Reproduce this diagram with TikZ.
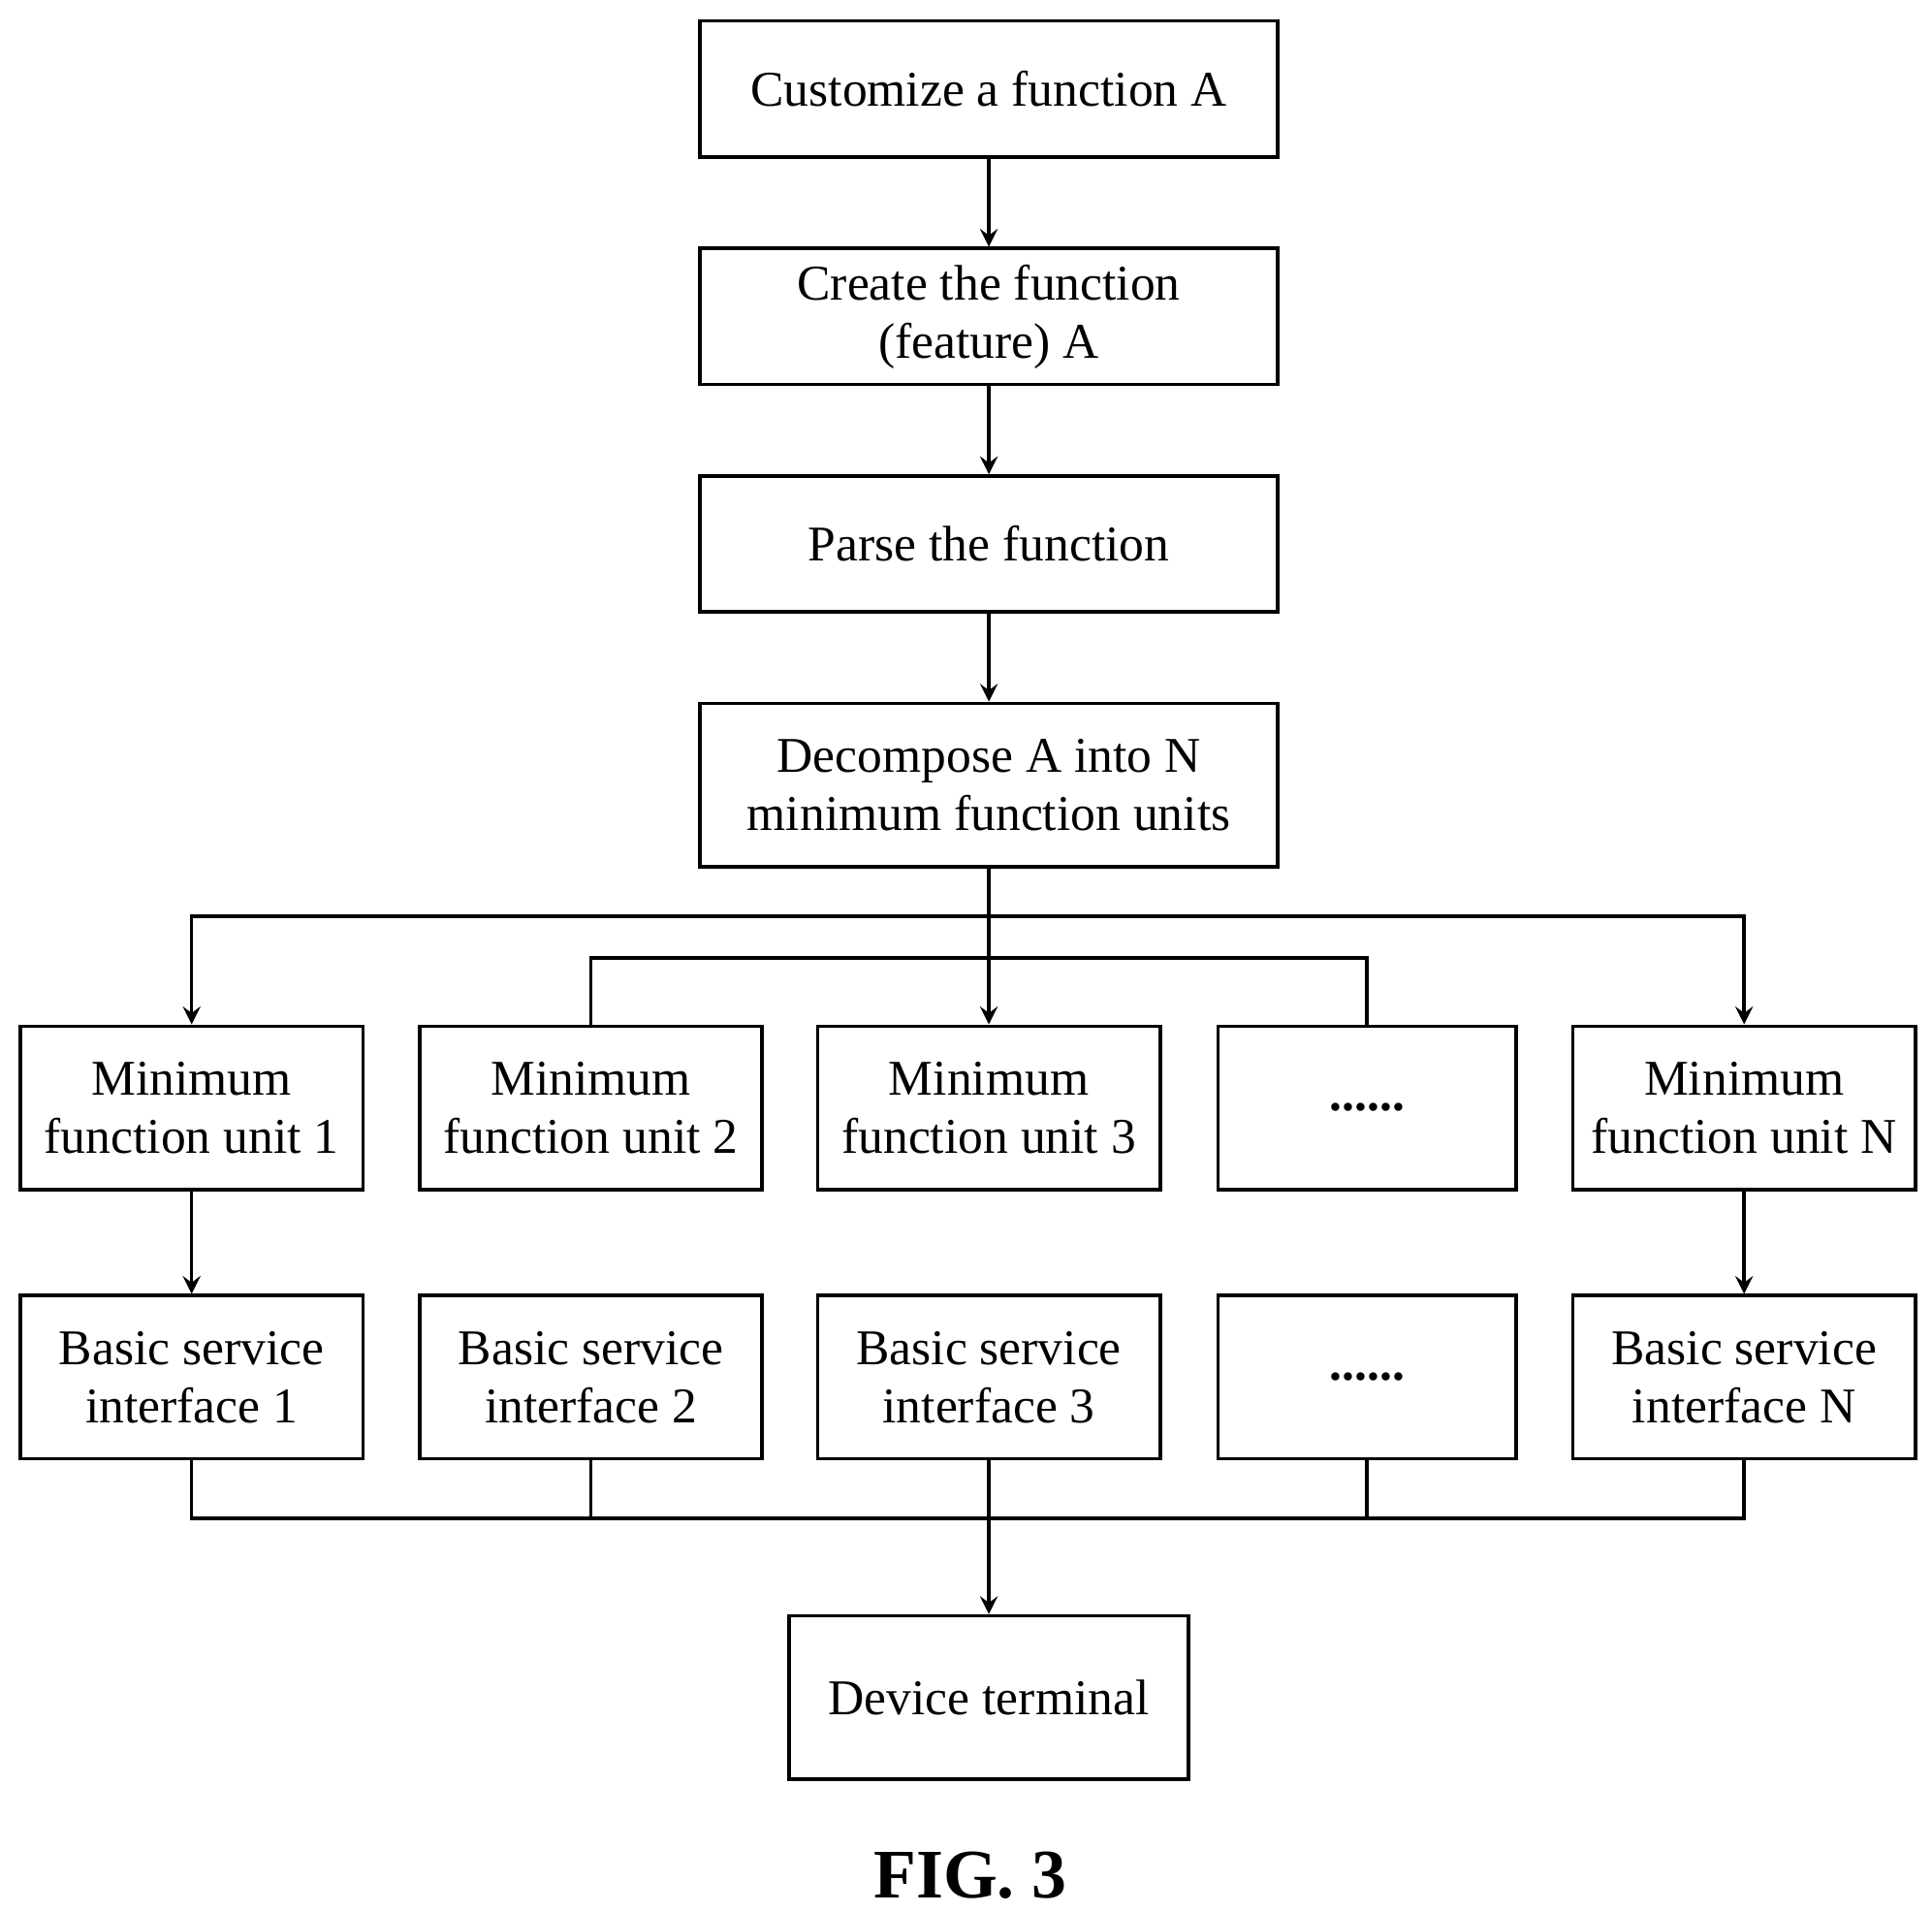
\documentclass[tikz,border=0pt]{standalone}
\usepackage{fontspec}
\setmainfont{Liberation Serif}
\usetikzlibrary{arrows, positioning}
\tikzset{>=stealth}

\begin{document}
\begin{tikzpicture}[>=stealth, x=0.01cm, y=-0.01cm,
    box/.style={draw, thick, align=center, inner sep=0pt,
        font=\fontsize{11.5}{13.4}\selectfont},
    wide/.style={box, minimum width=4.67cm, minimum height=1.1cm},
    unit/.style={box, minimum width=2.77cm, minimum height=1.32cm},
    dots/.style={box, minimum width=2.41cm, minimum height=1.32cm}]
    \useasboundingbox (0,0) rectangle (1563,1546);
    \node[wide] (cust) at (800,72) {Customize a function A};
    \node[wide] (create) at (800,256) {Create the function\\(feature) A};
    \node[wide] (parse) at (800,440) {Parse the function};
    \node[wide, minimum height=1.32cm] (decomp) at (800,635) {Decompose A into N\\minimum function units};

    \node[unit] (m1) at (155,896) {Minimum\\function unit 1};
    \node[unit] (m2) at (478,896) {Minimum\\function unit 2};
    \node[unit] (m3) at (800,896) {Minimum\\function unit 3};
    \node[dots] (m4) at (1106,896) {\textbf{......}};
    \node[unit] (mN) at (1411,896) {Minimum\\function unit N};

    \node[unit] (b1) at (155,1114) {Basic service\\interface 1};
    \node[unit] (b2) at (478,1114) {Basic service\\interface 2};
    \node[unit] (b3) at (800,1114) {Basic service\\interface 3};
    \node[dots] (b4) at (1106,1114) {\textbf{......}};
    \node[unit] (bN) at (1411,1114) {Basic service\\interface N};

    \node[box, minimum width=3.23cm, minimum height=1.32cm] (dev) at (800,1373) {Device terminal};
    \node[font=\fontsize{16}{18}\selectfont\bfseries] (fig) at (785,1517) {FIG. 3};

    \draw[->, thick] (cust) -- (create);
    \draw[->, thick] (create) -- (parse);
    \draw[->, thick] (parse) -- (decomp);
    \draw[->, thick] (decomp) -- (m3);
    \draw[->, thick] (decomp.south |- 0,741) -| (m1);
    \draw[->, thick] (decomp.south |- 0,741) -| (mN);
    \draw[thick] (m2.north) |- (478,775) -| (m4.north);
    \draw[->, thick] (m1) -- (b1);
    \draw[->, thick] (mN) -- (bN);
    \draw[thick] (b1.south) |- (bN.south |- 0,1228) -- (bN.south);
    \draw[thick] (b2.south) -- (b2.south |- 0,1228);
    \draw[thick] (b4.south) -- (b4.south |- 0,1228);
    \draw[->, thick] (b3) -- (dev);
\end{tikzpicture}
\end{document}
